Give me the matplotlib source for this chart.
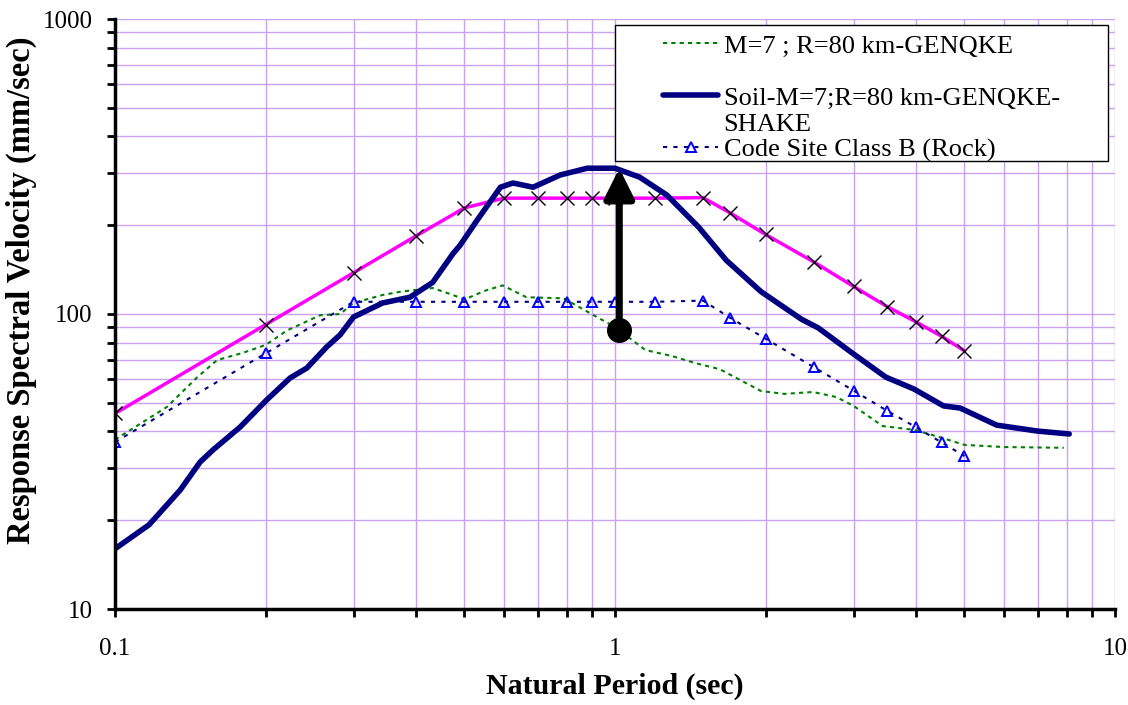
import numpy as np
import matplotlib
matplotlib.use('Agg')
import matplotlib.pyplot as plt
from matplotlib.lines import Line2D
from matplotlib.patches import Rectangle
from matplotlib.ticker import LogLocator, NullFormatter, FixedLocator, FixedFormatter

plt.rcParams['font.family'] = ['Liberation Serif', 'DejaVu Serif']

# code spectrum (magenta, x markers)
code_T = [0.1, 0.2, 0.3, 0.4, 0.5, 0.6, 0.7, 0.8, 0.9, 1.0, 1.2, 1.5,
          1.7, 2.0, 2.5, 3.0, 3.5, 4.0, 4.5, 5.0]
code_sv = [46, 92, 138, 184, 229, 247, 247, 247, 247, 247, 247, 248,
           220, 186, 150, 124, 106, 94, 84, 75]

# M=7 ; R=80 km-GENQKE (green dotted)
rock_T = [0.1, 0.127, 0.146, 0.16, 0.18, 0.2, 0.221, 0.257, 0.282, 0.3, 0.343,
          0.372, 0.432, 0.474, 0.5, 0.55, 0.596, 0.665, 0.79, 0.89, 1.0, 1.15,
          1.3, 1.47, 1.62, 1.96, 2.18, 2.49, 2.77, 3.0, 3.43, 3.96, 4.4, 5.0,
          6.0, 7.9]
rock_sv = [37.5, 48.4, 61, 69.8, 73.8, 78.5, 88, 99, 100, 109, 116,
           119, 122.5, 116, 112, 120, 125, 114, 113, 100.8, 90.3, 75.5,
           72, 67.7, 65, 54.8, 53.6, 54.4, 52.3, 48.8, 41.7, 40.5, 38.5, 36,
           35.4, 35.2]

# Soil-M=7;R=80 km-GENQKE-SHAKE (navy thick)
soil_T = [0.1, 0.117, 0.135, 0.148, 0.157, 0.178, 0.201, 0.224, 0.242, 0.265,
          0.282, 0.3, 0.343, 0.389, 0.432, 0.474, 0.49, 0.53, 0.59, 0.625,
          0.686, 0.777, 0.88, 1.0, 1.12, 1.27, 1.47, 1.67, 1.96, 2.36, 2.55,
          2.98, 3.48, 3.96, 4.54, 4.9, 5.8, 7.0, 8.1]
soil_sv = [16.0, 19.3, 25.3, 31.5, 34.6, 41.4, 51.1, 60.7, 65.6, 77.3,
           85, 97.7, 109, 114, 128, 160, 171, 208, 269, 278,
           269, 296, 312, 312, 291, 253, 197, 152, 119, 96, 89.7,
           73.8, 61.1, 55.7, 48.8, 48, 42, 40.1, 39.2]

# Code Site Class B (Rock) (blue triangles)
classb_T = [0.1, 0.2, 0.3, 0.4, 0.5, 0.6, 0.7, 0.8, 0.9, 1.0, 1.2, 1.5,
            1.7, 2.0, 2.5, 3.0, 3.5, 4.0, 4.5, 5.0]
classb_sv = [36.8, 73.5, 110, 110, 110, 110, 110, 110, 110, 110, 110, 111,
             97, 82.5, 66, 55, 47, 41.3, 36.7, 33]

# arrow showing amplification
arrow_T = 1.02
arrow_from = 88
arrow_to = 312

fig = plt.figure(figsize=(11.28, 7.05), dpi=100)
ax = fig.add_axes([115/1128, 1 - 609/705, 1000/1128, 590/705])

grid_c = '#c9a3f2'
ax.plot(code_T, code_sv, color='#ff00ff', lw=2.5, marker='x', ms=10,
        mec='black', mew=1.0, zorder=4)
l_rock, = ax.plot(rock_T, rock_sv, color='#008000', lw=1.5, ls=(0, (2, 2)),
                  zorder=3)
l_soil, = ax.plot(soil_T, soil_sv, color='#000080', lw=4,
                  solid_capstyle='round', zorder=5)
l_classb, = ax.plot(classb_T, classb_sv, color='#000080', lw=1.5,
                    ls=(0, (2, 3)), marker='^', ms=7, mfc='none',
                    mec='#0000ff', mew=1.4, zorder=4)

ax.annotate('', xy=(arrow_T, arrow_to), xytext=(arrow_T, arrow_from),
            arrowprops=dict(arrowstyle='-|>,head_width=0.45,head_length=0.9',
                            mutation_scale=20, color='black', lw=5,
                            shrinkA=0, shrinkB=0),
            zorder=6)
ax.plot([arrow_T], [arrow_from], 'o', color='black', ms=17, zorder=7)

ax.set_xscale('log')
ax.set_yscale('log')
ax.set_xlim(0.1, 10)
ax.set_ylim(10, 1000)

ax.xaxis.set_major_locator(FixedLocator([0.1, 1, 10]))
ax.xaxis.set_major_formatter(FixedFormatter(['0.1', '1', '10']))
ax.yaxis.set_major_locator(FixedLocator([10, 100, 1000]))
ax.yaxis.set_major_formatter(FixedFormatter(['10', '100', '1000']))
ax.xaxis.set_minor_locator(LogLocator(base=10, subs=np.arange(2, 10)))
ax.yaxis.set_minor_locator(LogLocator(base=10, subs=np.arange(2, 10)))
ax.xaxis.set_minor_formatter(NullFormatter())
ax.yaxis.set_minor_formatter(NullFormatter())

ax.grid(True, which='both', color=grid_c, lw=1.0)
ax.set_axisbelow(True)

for s in ['top', 'right']:
    ax.spines[s].set_visible(False)
for s in ['left', 'bottom']:
    ax.spines[s].set_linewidth(2.5)
    ax.spines[s].set_zorder(8)

ax.tick_params(axis='both', which='both', direction='out', length=6,
               width=2, labelsize=18)
ax.tick_params(axis='y', which='major', pad=10)
ax.tick_params(axis='x', which='major', pad=15)

ax.set_xlabel('Natural Period (sec)', fontsize=21.5, fontweight='bold', labelpad=9)
ax.set_ylabel('Response Spectral Velocity (mm/sec)', fontsize=23.5,
              fontweight='bold')
ax.yaxis.set_label_coords(-0.078, 0.541)

# legend box (Excel style fixed frame)
box = Rectangle((615/1128, 1 - 161/705), 493/1128, 136/705,
                transform=fig.transFigure, facecolor='white', edgecolor='black',
                lw=1.0, zorder=9)
ax.add_patch(box)
box.set_clip_on(False)

leg_kw = dict(loc='upper left', bbox_transform=fig.transFigure,
              borderaxespad=0, borderpad=0, frameon=False, fontsize=19,
              handlelength=2.1, handletextpad=0.2)

leg1 = ax.legend([l_rock], ['M=7 ; R=80 km-GENQKE'],
                 bbox_to_anchor=(663/1128, 1 - 34/705), **leg_kw)
leg1.set_zorder(10)
ax.add_artist(leg1)

blank = Line2D([], [], color='none')
leg2 = ax.legend([l_soil, blank, l_classb],
                 ['Soil-M=7;R=80 km-GENQKE-', 'SHAKE', 'Code Site Class B (Rock)'],
                 bbox_to_anchor=(663/1128, 1 - 86/705), labelspacing=0.1,
                 **leg_kw)
leg2.set_zorder(10)

fig.savefig('out.png', dpi=100)
